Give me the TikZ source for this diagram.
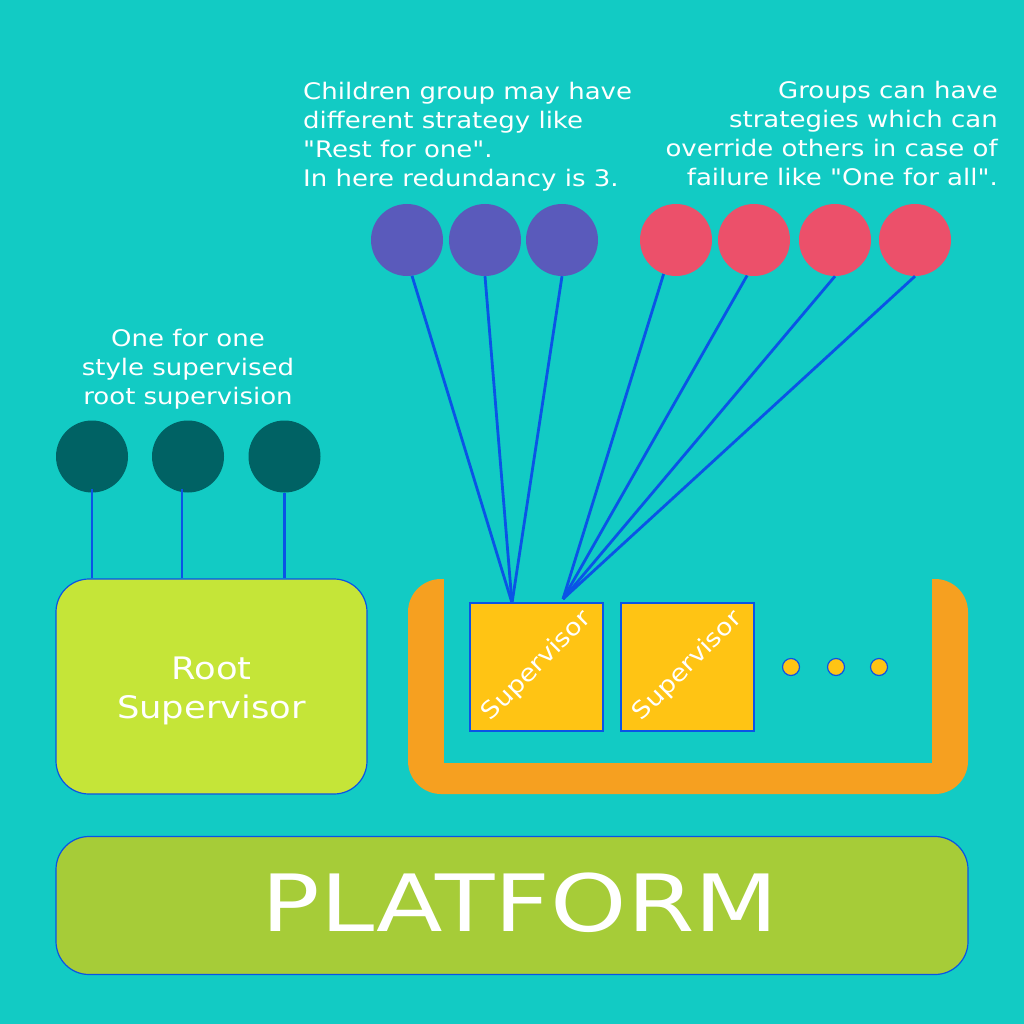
\documentclass[tikz,border=0pt]{standalone}
\usepackage{fontspec}
\setmainfont{DejaVu Sans}
\definecolor{bg}{RGB}{18,203,196}
\definecolor{linkblue}{RGB}{10,84,230}
\definecolor{grape}{RGB}{90,90,187}
\definecolor{rose}{RGB}{236,80,106}
\definecolor{deepteal}{RGB}{0,98,100}
\definecolor{lime}{RGB}{197,229,56}
\definecolor{amber}{RGB}{246,160,32}
\definecolor{gold}{RGB}{255,196,20}
\definecolor{olivegreen}{RGB}{166,204,56}
\newcommand{\dq}{\textquotedbl{}}
\begin{document}
\begin{tikzpicture}[x=1pt,y=-1pt,
  conn/.style={draw=linkblue, line width=2.8pt},
  ball/.style={circle, inner sep=0pt, minimum size=72pt},
  note/.style={text=white, inner sep=0pt, xscale=1.14,
    font=\fontsize{22.8}{29}\selectfont},
  card/.style={draw=linkblue, line width=1.2pt, inner sep=0pt},
  tiny/.style={circle, draw=linkblue, line width=1.2pt, fill=gold, inner sep=0pt, minimum size=17pt}]
\fill[bg] (0,0) rectangle (1024,1024);
\useasboundingbox (0,0) rectangle (1024,1024);

% annotations (base anchor = baseline of the last line)
\node[note, align=left, anchor=base west] (t1) at (303,186.3)
  {Children group may have\\different strategy like\\\dq Rest for one\dq.\\In here redundancy is 3.};
\node[note, align=right, anchor=base east] (t2) at (998,185.3)
  {Groups can have\\strategies which can\\override others in case of\\failure like \dq One for all\dq.};
\node[note, align=center, anchor=base] (t3) at (188,404)
  {One for one\\style supervised\\root supervision};

% child groups
\node[ball, fill=grape] (p1) at (407,240) {};
\node[ball, fill=grape] (p2) at (485,240) {};
\node[ball, fill=grape] (p3) at (562,240) {};
\node[ball, fill=rose] (r1) at (676,240) {};
\node[ball, fill=rose] (r2) at (754,240) {};
\node[ball, fill=rose] (r3) at (835,240) {};
\node[ball, fill=rose] (r4) at (915,240) {};

% root children
\node[ball, fill=deepteal] (d1) at (92,456.5) {};
\node[ball, fill=deepteal] (d2) at (188,456.5) {};
\node[ball, fill=deepteal] (d3) at (284.5,456.5) {};

% root supervisor
\node[card, fill=lime, rounded corners=33pt, minimum width=311pt, minimum height=215pt] (root) at (211.5,686.5) {};
\node[text=white, xscale=1.14, align=center, font=\fontsize{31}{39}\selectfont, inner sep=0pt, anchor=base] (roottxt) at (211.5,718.3) {Root\\Supervisor};

% group container
\fill[amber, rounded corners=33pt] (408,579) rectangle (968,794);
\fill[bg] (444,570) rectangle (931.5,762.5);

\node[card, fill=gold, minimum width=133pt, minimum height=128pt] (sv1) at (536.5,667) {};
\node[card, fill=gold, minimum width=133pt, minimum height=128pt] (sv2) at (687.5,667) {};
\node[text=white, rotate=45, xscale=1.14, font=\fontsize{23.5}{26}\selectfont, inner sep=0pt] (sv1t) at (537,666) {Supervisor};
\node[text=white, rotate=45, xscale=1.14, font=\fontsize{23.5}{26}\selectfont, inner sep=0pt] (sv2t) at (688,666) {Supervisor};

\node[tiny] (e1) at (791,667) {};
\node[tiny] (e2) at (836,667) {};
\node[tiny] (e3) at (879,667) {};

% platform
\node[card, fill=olivegreen, rounded corners=33pt, minimum width=912pt, minimum height=138pt] (plat) at (512,905.5) {};
\node[text=white, xscale=1.23, font=\fontsize{79}{80}\selectfont, inner sep=0pt, anchor=base] (plattxt) at (520,931) {PLATFORM};

% links
\coordinate (pj) at (512,603);
\coordinate (rj) at (563,599);
\draw[conn] (p1.-82) -- (pj);
\draw[conn] (p2.south) -- (pj);
\draw[conn] (p3.south) -- (pj);
\draw[conn] (r1.-110) -- (rj);
\draw[conn] (r2.-101) -- (rj);
\draw[conn] (r3.south) -- (rj);
\draw[conn] (r4.south) -- (rj);

\draw[conn] ([yshift=4pt]d1.south) -- (d1.south |- root.north);
\draw[conn] ([xshift=-6pt,yshift=4pt]d2.south) -- ([xshift=-6pt]d2.south |- root.north);
\draw[conn] (d3.south) -- (d3.south |- root.north);
\end{tikzpicture}
\end{document}
